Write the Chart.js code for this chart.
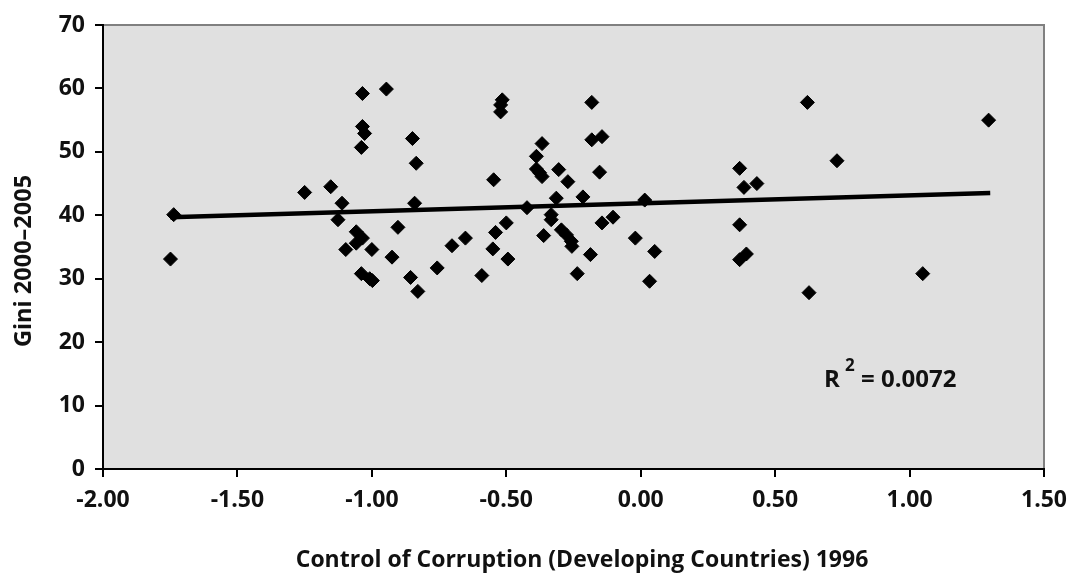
<!DOCTYPE html>
<html>
<head>
<meta charset="utf-8">
<script src="https://cdn.jsdelivr.net/npm/chart.js@4"></script>
<style>
  html, body { margin: 0; padding: 0; background: #fff; }
  #wrap { width: 1078px; height: 574px; }
</style>
</head>
<body>
<div id="wrap"><canvas id="myChart" width="1078" height="574"></canvas></div>
<script>
// control of corruption 1996 (x) and gini 2000-2005 (y)
const corruption = [
    -1.737, -1.749, -1.250, -1.153, -1.111, -1.126, -1.035, -0.946, -1.035, -1.027,
    -1.039, -0.849, -0.835, -0.841, -0.903, -1.058, -1.035, -1.058, -1.097, -1.000,
    -0.925, -1.039, -0.998, -1.008, -0.856, -0.829,
    -0.515, -0.521, -0.521, -0.182, -0.182, -0.144, -0.367, -0.388, -0.388, -0.367,
    -0.376, -0.305, -0.271, -0.153, -0.547, -0.314, -0.215, 0.015, -0.423, -0.333,
    -0.333, -0.500, -0.540, -0.652, -0.702, -0.550, -0.494, -0.757, -0.591, -0.361,
    -0.295, -0.276, -0.258, -0.256, -0.187, -0.236, -0.144, -0.103, -0.020, 0.052,
    0.033,
    0.620, 1.294, 0.730, 0.368, 0.384, 0.432, 0.368, 0.393, 0.368, 1.049, 0.626
];
const gini = [
    40.1, 33.1, 43.6, 44.5, 41.9, 39.3, 59.2, 59.9, 54.0, 52.9,
    50.7, 52.1, 48.2, 41.9, 38.1, 37.4, 36.4, 35.6, 34.6, 34.6,
    33.4, 30.8, 29.7, 30.0, 30.2, 28.0,
    58.2, 57.4, 56.3, 57.8, 51.9, 52.4, 51.3, 49.3, 47.3, 46.1,
    46.7, 47.2, 45.3, 46.8, 45.6, 42.7, 42.9, 42.4, 41.2, 40.1,
    39.3, 38.8, 37.3, 36.4, 35.2, 34.7, 33.1, 31.7, 30.5, 36.8,
    37.7, 36.9, 35.9, 35.1, 33.8, 30.8, 38.8, 39.7, 36.4, 34.3,
    29.6,
    57.8, 55.0, 48.6, 47.4, 44.4, 45.0, 38.5, 33.9, 33.0, 30.8, 27.8
];
// linear trend end points
const trendX = [-1.75, 1.30];
const trendY = [39.7, 43.5];
const xTicks = [-2.0, -1.5, -1.0, -0.5, 0.0, 0.5, 1.0, 1.5];
const yTicks = [0, 10, 20, 30, 40, 50, 60, 70];

const FONT = '"Open Sans", "DejaVu Sans", sans-serif';

const plotBox = {
    id: 'plotBox',
    beforeDraw(chart) {
        const { ctx, chartArea: a } = chart;
        ctx.save();
        ctx.fillStyle = '#e0e0e0';
        ctx.fillRect(a.left, a.top, a.right - a.left, a.bottom - a.top);
        ctx.strokeStyle = '#808080';
        ctx.lineWidth = 2;
        ctx.beginPath();
        ctx.moveTo(a.left, a.top);
        ctx.lineTo(a.right, a.top);
        ctx.lineTo(a.right, a.bottom);
        ctx.stroke();
        ctx.restore();
    },
    afterDraw(chart) {
        const { ctx } = chart;
        ctx.save();
        ctx.fillStyle = '#111';
        ctx.textBaseline = 'alphabetic';
        ctx.font = 'bold 23px ' + FONT;
        ctx.textAlign = 'center';
        ctx.fillText('Control of Corruption (Developing Countries) 1996', 582, 567);
        ctx.font = 'bold 23.5px ' + FONT;
        ctx.translate(31, 261);
        ctx.rotate(-Math.PI / 2);
        ctx.fillText('Gini 2000\u20132005', 0, 0);
        ctx.restore();

        ctx.save();
        ctx.fillStyle = '#111';
        ctx.textAlign = 'left';
        ctx.font = 'bold 24px ' + FONT;
        ctx.fillText('R', 824, 387);
        ctx.font = 'bold 17px ' + FONT;
        ctx.fillText('2', 845, 371);
        ctx.font = 'bold 24px ' + FONT;
        ctx.fillText('= 0.0072', 861, 387);
        ctx.restore();
    }
};

new Chart(document.getElementById('myChart'), {
    type: 'scatter',
    data: {
        datasets: [{
            data: trendX.map((x, i) => ({ x: x, y: trendY[i] })),
            showLine: true,
            borderColor: '#000',
            borderWidth: 4.5,
            pointRadius: 0,
            order: 0
        }, {
            data: corruption.map((x, i) => ({ x: x, y: gini[i] })),
            pointStyle: 'rectRot',
            pointRadius: 7,
            backgroundColor: '#000',
            borderColor: '#000',
            borderWidth: 1,
            order: 1
        }]
    },
    options: {
        responsive: false,
        animation: false,
        layout: {
            padding: { left: 0, top: 25, right: 34, bottom: 0 }
        },
        scales: {
            x: {
                type: 'linear',
                min: -2,
                max: 1.5,
                afterBuildTicks: (scale) => { scale.ticks = xTicks.map(v => ({ value: v })); },
                afterFit: (scale) => { scale.height = 105; },
                grid: {
                    display: true,
                    drawOnChartArea: false,
                    drawTicks: true,
                    tickLength: 8,
                    color: '#000',
                    lineWidth: 2
                },
                border: { display: true, color: '#000', width: 2 },
                ticks: {
                    color: '#111',
                    padding: 10,
                    maxRotation: 0,
                    font: { size: 23, weight: 'bold', family: FONT },
                    callback: (v) => v.toFixed(2)
                }
            },
            y: {
                min: 0,
                max: 70,
                afterBuildTicks: (scale) => { scale.ticks = yTicks.map(v => ({ value: v })); },
                afterFit: (scale) => { scale.width = 103; },
                grid: {
                    display: true,
                    drawOnChartArea: false,
                    drawTicks: true,
                    tickLength: 8,
                    color: '#000',
                    lineWidth: 2
                },
                border: { display: true, color: '#000', width: 2 },
                ticks: {
                    color: '#111',
                    padding: 10,
                    font: { size: 23, weight: 'bold', family: FONT }
                }
            }
        },
        plugins: {
            legend: { display: false },
            tooltip: { enabled: false }
        }
    },
    plugins: [plotBox]
});
</script>
</body>
</html>
